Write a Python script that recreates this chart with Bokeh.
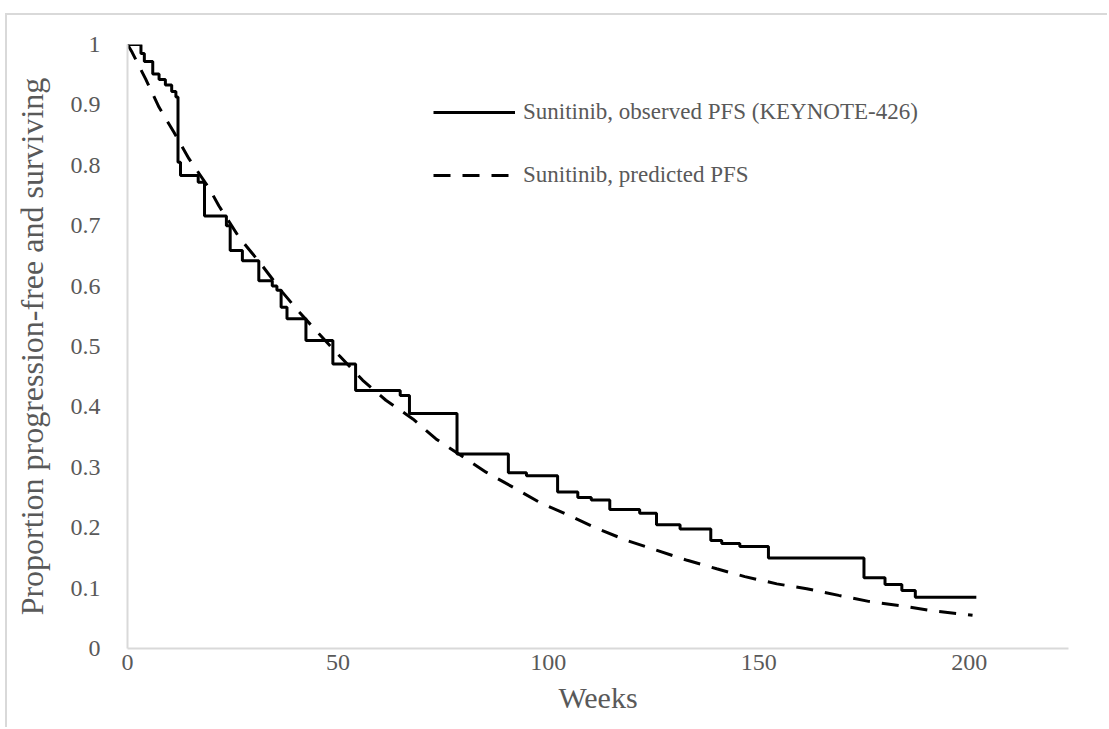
from bokeh.plotting import figure
from bokeh.models import Range1d, FixedTicker, Legend, LegendItem
from bokeh.embed import file_html
from bokeh.resources import INLINE

# Observed PFS (Kaplan-Meier steps): week of event, proportion after event
obs_weeks = [0, 3.2, 4.0, 6.0, 7.5, 9.0, 10.5, 11.5, 12.0, 12.6, 16.8, 18.3, 23.5, 24.4,
             27.3, 31.2, 34.4, 35.5, 36.5, 37.9, 42.4, 48.8, 54.2, 64.8, 67.0, 78.3,
             90.5, 94.8, 102.2, 107.0, 110.2, 114.6, 121.7, 125.7, 131.3, 138.6, 141.2,
             145.5, 152.3, 175.0, 180.0, 184.0, 187.2, 201.7]
obs_pfs = [1.0, 0.985, 0.972, 0.951, 0.942, 0.933, 0.922, 0.913, 0.805, 0.783, 0.772, 0.716,
           0.700, 0.659, 0.642, 0.609, 0.600, 0.593, 0.565, 0.546, 0.510, 0.471, 0.427,
           0.419, 0.389, 0.322, 0.291, 0.286, 0.259, 0.250, 0.246, 0.230, 0.224, 0.205,
           0.198, 0.179, 0.174, 0.169, 0.150, 0.117, 0.106, 0.096, 0.085, 0.085]

# Predicted PFS curve
pred_weeks = [0, 1.1, 4.3, 7.5, 11, 14.6, 19.4, 21.7, 26.5, 32, 36.8, 40.8, 45.5, 50.3,
              55.9, 61.4, 67.8, 73.3, 85.2, 91.6, 97.9, 105, 111.8, 118.6, 126, 133, 140,
              146.7, 154.3, 161.4, 169, 176.1, 183.6, 190.8, 198.3, 200.8]
pred_pfs = [1.0, 0.987, 0.943, 0.896, 0.855, 0.811, 0.762, 0.733, 0.681, 0.634, 0.590,
            0.557, 0.521, 0.485, 0.444, 0.411, 0.380, 0.347, 0.292, 0.267, 0.242, 0.220,
            0.198, 0.179, 0.162, 0.146, 0.132, 0.119, 0.107, 0.099, 0.088, 0.078, 0.071,
            0.063, 0.057, 0.055]

x_ticks = [0, 50, 100, 150, 200]
y_ticks = [0, 0.1, 0.2, 0.3, 0.4, 0.5, 0.6, 0.7, 0.8, 0.9, 1.0]
y_tick_labels = ["0", "0.1", "0.2", "0.3", "0.4", "0.5", "0.6", "0.7", "0.8", "0.9", "1"]

series_labels = ["Sunitinib, observed PFS (KEYNOTE-426)", "Sunitinib, predicted PFS"]

FONT = "Liberation Serif"
GRAY = "#595959"
AXIS_GRAY = "#d9d9d9"

# figure sits inside a light-gray chart border starting at (5, 13)
p = figure(width=1102, height=714, output_backend="svg", toolbar_location=None,
           x_range=Range1d(0, 223.6), y_range=Range1d(0, 1),
           min_border_left=120, min_border_right=41, min_border_top=29, min_border_bottom=81,
           margin=(13, 0, 0, 5),
           styles={"border-left": "2px solid #d9d9d9", "border-top": "2px solid #d9d9d9"})
p.outline_line_color = None
p.xgrid.visible = False
p.ygrid.visible = False
p.background_fill_color = "white"
p.border_fill_color = "white"

r_obs = p.step(obs_weeks, obs_pfs, mode="after", line_color="black", line_width=3)
r_pred = p.line(pred_weeks, pred_pfs, line_color="black", line_width=3, line_dash="17 12")

for ax in (p.xaxis[0], p.yaxis[0]):
    ax.axis_line_color = AXIS_GRAY
    ax.axis_line_width = 2
    ax.major_tick_line_color = None
    ax.minor_tick_line_color = None
    ax.major_tick_in = 0
    ax.major_tick_out = 0
    ax.major_label_text_font = FONT
    ax.major_label_text_color = GRAY
    ax.major_label_text_font_size = "24px"
    ax.axis_label_text_font = FONT
    ax.axis_label_text_color = GRAY
    ax.axis_label_text_font_style = "normal"

p.xaxis.axis_label_text_font_size = "30px"
p.yaxis.axis_label_text_font_size = "32px"
p.xaxis.ticker = FixedTicker(ticks=x_ticks)
p.yaxis.ticker = FixedTicker(ticks=y_ticks)
p.yaxis.major_label_overrides = {t: l for t, l in zip(y_ticks, y_tick_labels)}
p.xaxis.axis_label = "Weeks"
p.yaxis.axis_label = "Proportion progression-free and surviving"
p.xaxis.major_label_standoff = 6
p.xaxis.axis_label_standoff = 8
p.yaxis.major_label_standoff = 27
p.yaxis.axis_label_standoff = 18

legend = Legend(items=[LegendItem(label=series_labels[0], renderers=[r_obs]),
                       LegendItem(label=series_labels[1], renderers=[r_pred])],
                location=(306, 458))
legend.glyph_width = 82
legend.glyph_height = 30
legend.label_height = 30
legend.label_standoff = 8
legend.spacing = 33
legend.padding = 0
legend.margin = 0
legend.border_line_color = None
legend.background_fill_alpha = 0
legend.label_text_font = FONT
legend.label_text_font_size = "23px"
legend.label_text_color = GRAY
p.add_layout(legend, "center")

open("out.html", "w").write(file_html(p, INLINE))
